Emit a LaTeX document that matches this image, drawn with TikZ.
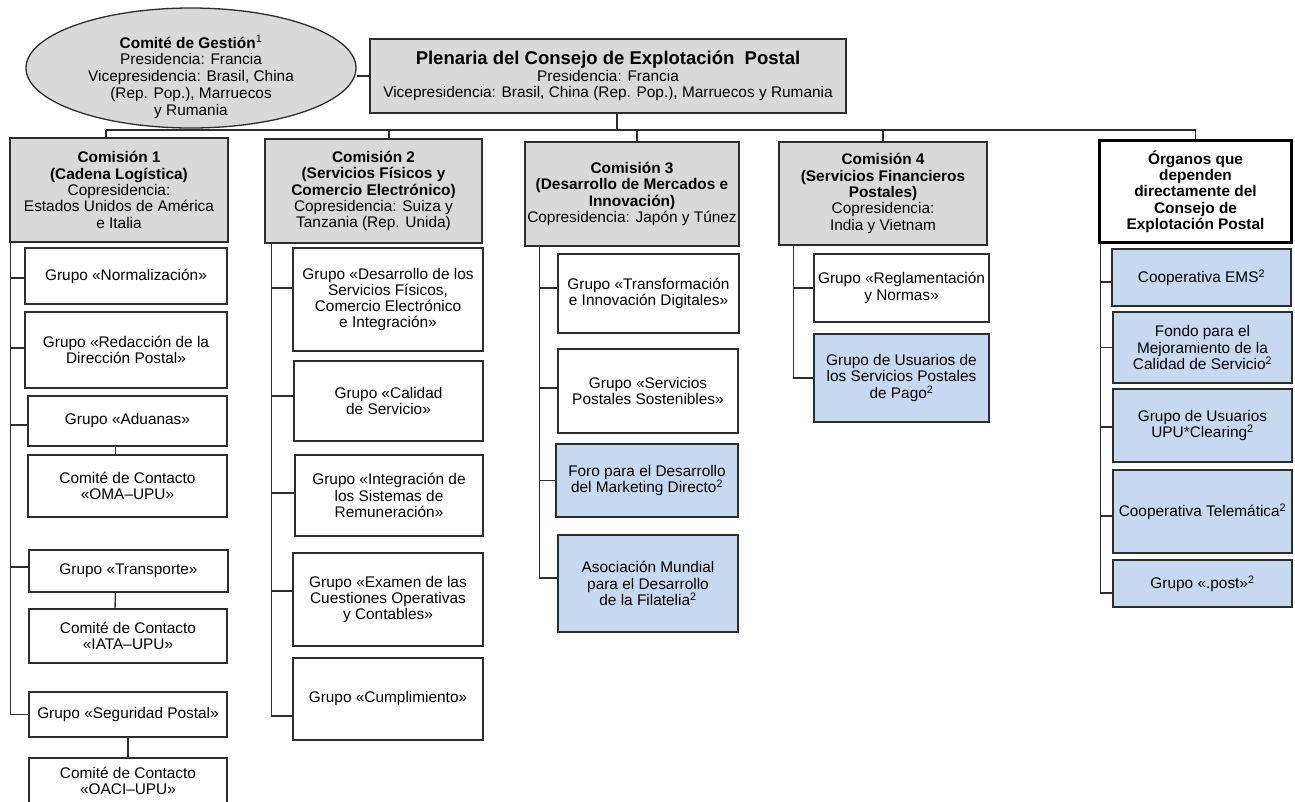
\documentclass[tikz,border=0pt]{standalone}
\usepackage{fontspec}
\setmainfont{Liberation Sans}
\usepackage{xcolor}
\usepackage{tikz}
\usetikzlibrary{shapes,positioning,calc}
\definecolor{comgray}{RGB}{217,217,217}
\definecolor{grpblue}{RGB}{198,217,241}
\definecolor{edgegray}{RGB}{45,45,45}

\begin{document}
\begin{tikzpicture}[x=1pt, y=-1pt,
    box/.style={draw=edgegray, line width=1.3pt, align=center, inner sep=1pt,
      font=\fontsize{15.4}{16.3}\selectfont},
    grp/.style={box, fill=white},
    blu/.style={box, fill=grpblue},
    com/.style={box, fill=comgray},
    link/.style={draw=edgegray, line width=1.4pt}]
    \useasboundingbox (0,0) rectangle (1295,801);
    \clip (0,0) rectangle (1295,801);
    \fill[white] (0,0) rectangle (1295,801);

    % Top level
    \node[com, ellipse, inner sep=0pt, minimum width=330, minimum height=120] (gestion) at (191,68) {};
    \node[align=center, font=\fontsize{15.4}{16.8}\selectfont] (gestiontxt) at (191,77)
      {\textbf{Comité de Gestión}\textsuperscript{1}\\ Presidencia: Francia\\ Vicepresidencia: Brasil, China\\ (Rep. Pop.), Marruecos\\ y Rumania};
    \node[com, minimum width=476, minimum height=74] (plenaria) at (608,76)
      {{\fontsize{18.5}{21}\selectfont\textbf{Plenaria del Consejo de Explotación\ \ Postal}}\\ Presidencia: Francia\\ Vicepresidencia: Brasil, China (Rep. Pop.), Marruecos y Rumania};

    % Commissions
    \node[com, minimum width=218, minimum height=104] (com1) at (119,190)
      {\textbf{Comisión 1}\\ \textbf{(Cadena Logística)}\\ Copresidencia:\\ Estados Unidos de América\\ e Italia};
    \node[com, minimum width=217, minimum height=104] (com2) at (373.5,191)
      {\textbf{Comisión 2}\\ \textbf{(Servicios Físicos y}\\ \textbf{Comercio Electrónico)}\\ Copresidencia: Suiza y\\ Tanzania (Rep. Unida)};
    \node[com, minimum width=214, minimum height=104] (com3) at (632,194)
      {\textbf{Comisión 3}\\ \textbf{(Desarrollo de Mercados e}\\ \textbf{Innovación)}\\ Copresidencia: Japón y Túnez};
    \node[com, minimum width=208, minimum height=103] (com4) at (883,193.5)
      {\textbf{Comisión 4}\\ \textbf{(Servicios Financieros}\\ \textbf{Postales)}\\ Copresidencia:\\ India y Vietnam};
    \node[box, fill=white, draw=black, line width=3.5pt, minimum width=192, minimum height=102] (organos) at (1195.5,191.5)
      {\textbf{Órganos que}\\ \textbf{dependen}\\ \textbf{directamente del}\\ \textbf{Consejo de}\\ \textbf{Explotación Postal}};

    % Commission 1 groups
    \node[grp, minimum width=202, minimum height=56] (normal) at (126,276) {Grupo «Normalización»};
    \node[grp, minimum width=202, minimum height=76] (redac) at (126,350) {Grupo «Redacción de la\\ Dirección Postal»};
    \node[grp, minimum width=199, minimum height=50] (aduanas) at (127.5,421) {Grupo «Aduanas»};
    \node[grp, minimum width=199, minimum height=62] (oma) at (127.5,486) {Comité de Contacto\\ «OMA–UPU»};
    \node[grp, minimum width=199, minimum height=42] (transp) at (128.5,571) {Grupo «Transporte»};
    \node[grp, minimum width=198, minimum height=54] (iata) at (128,636) {Comité de Contacto\\ «IATA–UPU»};
    \node[grp, minimum width=198, minimum height=45] (segur) at (128,714.5) {Grupo «Seguridad Postal»};
    \node[grp, minimum width=198, minimum height=46] (oaci) at (128,781) {Comité de Contacto\\ «OACI–UPU»};

    % Commission 2 groups
    \node[grp, minimum width=190, minimum height=103] (desfis) at (388,299.5)
      {Grupo «Desarrollo de los\\ Servicios Físicos,\\ Comercio Electrónico\\ e Integración»};
    \node[grp, minimum width=189, minimum height=80] (calidad) at (388.5,401) {Grupo «Calidad\\ de Servicio»};
    \node[grp, minimum width=188, minimum height=81] (remun) at (389,495.5) {Grupo «Integración de\\ los Sistemas de\\ Remuneración»};
    \node[grp, minimum width=190, minimum height=93] (examen) at (388,599.5) {Grupo «Examen de las\\ Cuestiones Operativas\\ y Contables»};
    \node[grp, minimum width=190, minimum height=82] (cumpl) at (388,699) {Grupo «Cumplimiento»};

    % Commission 3 groups
    \node[grp, minimum width=181, minimum height=79] (transf) at (648.5,293.5) {Grupo «Transformación\\ e Innovación Digitales»};
    \node[grp, minimum width=180, minimum height=84] (sosten) at (648,391) {Grupo «Servicios\\ Postales Sostenibles»};
    \node[blu, minimum width=182, minimum height=73] (foro) at (647,480.5) {Foro para el Desarrollo\\ del Marketing Directo\textsuperscript{2}};
    \node[blu, minimum width=180, minimum height=97] (filat) at (648,583.5) {Asociación Mundial\\ para el Desarrollo\\ de la Filatelia\textsuperscript{2}};

    % Commission 4 groups
    \node[grp, minimum width=175, minimum height=68] (reglam) at (901.5,288) {Grupo «Reglamentación\\ y Normas»};
    \node[blu, minimum width=175, minimum height=88] (pago) at (901.5,378) {Grupo de Usuarios de\\ los Servicios Postales\\ de Pago\textsuperscript{2}};

    % Bodies under the Council
    \node[blu, minimum width=179, minimum height=57] (ems) at (1201.5,277.5) {Cooperativa EMS\textsuperscript{2}};
    \node[blu, minimum width=179, minimum height=71] (fondo) at (1202.5,347.5) {Fondo para el\\ Mejoramiento de la\\ Calidad de Servicio\textsuperscript{2}};
    \node[blu, minimum width=179, minimum height=73] (clear) at (1202.5,425.5) {Grupo de Usuarios\\ UPU*Clearing\textsuperscript{2}};
    \node[blu, minimum width=179, minimum height=83] (telem) at (1202.5,511.5) {Cooperativa Telemática\textsuperscript{2}};
    \node[blu, minimum width=179, minimum height=47] (post) at (1202.5,583.5) {Grupo «.post»\textsuperscript{2}};

    % Bus and top connectors
    \coordinate (busL) at (106,130);
    \coordinate (busR) at (1195.5,130);
    \draw[link] (busL) -- (busR);
    \draw[link] (plenaria.west) -- (plenaria.west -| gestion.east);
    \draw[link] ([xshift=9pt]plenaria.south) -- ([xshift=9pt]plenaria.south |- busL);
    \draw[link] (busL) -- ([xshift=-13pt]com1.north);
    \draw[link] ([xshift=15.5pt]com2.north |- busL) -- ([xshift=15.5pt]com2.north);
    \draw[link] ([xshift=5pt]com3.north |- busL) -- ([xshift=5pt]com3.north);
    \draw[link] (com4.north |- busL) -- (com4.north);
    \draw[link] (busR) -- (organos.north);

    % Commission 1 tree
    \draw[link] ([xshift=1pt]com1.south west) |- ([yshift=-2pt]normal.west);
    \draw[link] ([xshift=1pt]com1.south west) |- ([yshift=2pt]redac.west);
    \draw[link] ([xshift=1pt]com1.south west) |- ([yshift=-4pt]aduanas.west);
    \draw[link] ([xshift=1pt]com1.south west) |- ([yshift=4pt]transp.west);
    \draw[link] ([xshift=1pt]com1.south west) |- (segur.west);
    \draw[link] ([xshift=-12pt]aduanas.south) -- ([xshift=-12pt]oma.north);
    \draw[link] ([xshift=-13pt]transp.south) -- ([xshift=-13pt]iata.north);
    \draw[link] (segur.south) -- (oaci.north);

    % Commission 2 tree
    \draw[link] ([xshift=7pt]com2.south west) |- ([yshift=11.5pt]desfis.west);
    \draw[link] ([xshift=7pt]com2.south west) |- ([yshift=5pt]calidad.west);
    \draw[link] ([xshift=7pt]com2.south west) |- ([yshift=2.5pt]remun.west);
    \draw[link] ([xshift=7pt]com2.south west) |- ([yshift=8.5pt]examen.west);
    \draw[link] ([xshift=7pt]com2.south west) |- ([yshift=-17pt]cumpl.west);

    % Commission 3 tree
    \draw[link] ([xshift=15pt]com3.south west) |- ([yshift=5.5pt]transf.west);
    \draw[link] ([xshift=15pt]com3.south west) |- ([yshift=3pt]sosten.west);
    \draw[link] ([xshift=15pt]com3.south west) |- (foro.west);
    \draw[link] ([xshift=15pt]com3.south west) |- ([yshift=5.5pt]filat.west);

    % Commission 4 tree
    \draw[link] ([xshift=15pt]com4.south west) |- (reglam.west);
    \draw[link] ([xshift=15pt]com4.south west) |- (pago.west);

    % Bodies tree
    \draw[link] ([xshift=2.5pt]organos.south west) |- ([yshift=-4.5pt]ems.west);
    \draw[link] ([xshift=2.5pt]organos.south west) |- (fondo.west);
    \draw[link] ([xshift=2.5pt]organos.south west) |- ([yshift=-1.5pt]clear.west);
    \draw[link] ([xshift=2.5pt]organos.south west) |- ([yshift=-4.5pt]telem.west);
    \draw[link] ([xshift=2.5pt]organos.south west) |- ([yshift=-9.5pt]post.west);
\end{tikzpicture}
\end{document}
